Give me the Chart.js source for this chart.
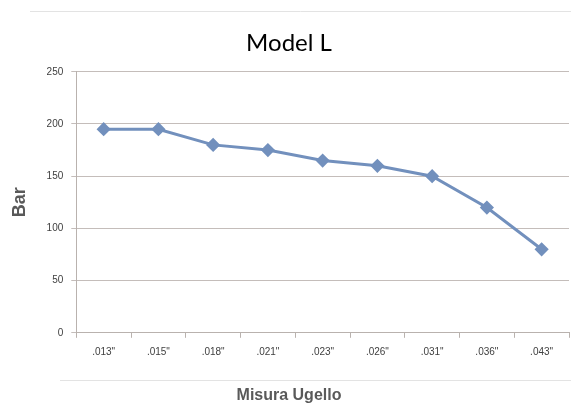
<!DOCTYPE html>
<html>
<head>
<meta charset="utf-8">
<script src="https://cdn.jsdelivr.net/npm/chart.js@4/dist/chart.umd.min.js"></script>
<style>
html,body{margin:0;padding:0;background:#fff;}
#wrap{width:571px;height:405px;position:relative;}
</style>
</head>
<body>
<div id="wrap"><canvas id="c" width="571" height="405"></canvas></div>
<script>
const categories = ['.013"', '.015"', '.018"', '.021"', '.023"', '.026"', '.031"', '.036"', '.043"'];
const barValues = [195, 195, 180, 175, 165, 160, 150, 120, 80];
const yTicks = [0, 50, 100, 150, 200, 250];

const separators = {
  id: 'separators',
  beforeDraw(chart) {
    const ctx = chart.ctx;
    const a = chart.chartArea;
    ctx.save();
    ctx.strokeStyle = '#e3e3e3';
    ctx.lineWidth = 1;
    ctx.beginPath();
    ctx.moveTo(30, Math.round(a.top) - 60.5);
    ctx.lineTo(571, Math.round(a.top) - 60.5);
    ctx.moveTo(60, Math.round(a.bottom) + 47.5);
    ctx.lineTo(571, Math.round(a.bottom) + 47.5);
    ctx.stroke();
    ctx.restore();
  }
};

new Chart(document.getElementById('c'), {
  type: 'line',
  data: {
    labels: categories,
    datasets: [{
      label: 'Bar',
      data: barValues,
      borderColor: '#7290bd',
      backgroundColor: '#7290bd',
      borderWidth: 3,
      pointStyle: 'rectRot',
      pointRadius: 5,
      pointHoverRadius: 5,
      tension: 0
    }]
  },
  options: {
    responsive: false,
    animation: false,
    layout: { autoPadding: false, padding: { left: 9, right: 2, top: 0, bottom: 0 } },
    plugins: {
      legend: { display: false },
      tooltip: { enabled: false },
      title: {
        display: true,
        text: 'Model L',
        color: '#000',
        font: { family: 'Lato', size: 24, weight: 'normal' },
        padding: { top: 29, bottom: 14 }
      },
      subtitle: {
        display: true,
        position: 'bottom',
        text: 'Misura Ugello',
        color: '#595959',
        font: { family: 'Liberation Sans', size: 16, weight: 'bold' },
        padding: { top: 20, bottom: 0 }
      }
    },
    scales: {
      x: {
        type: 'category',
        offset: true,
        afterFit(scale) { scale.paddingLeft = 0; scale.paddingRight = 0; },
        grid: { offset: true, drawOnChartArea: false, drawTicks: true, tickLength: 5, color: '#b9b2ae' },
        border: { color: '#b9b2ae' },
        ticks: { color: '#404040', font: { family: 'Liberation Sans', size: 10 }, padding: 8, maxRotation: 0, autoSkip: false }
      },
      y: {
        min: 0,
        max: 250,
        afterBuildTicks(scale) { scale.ticks = yTicks.map(v => ({ value: v })); },
        grid: { color: '#c4bdba', tickLength: 5 },
        border: { color: '#b9b2ae' },
        ticks: { color: '#404040', font: { family: 'Liberation Sans', size: 10 }, padding: 8 },
        title: {
          display: true,
          text: 'Bar',
          color: '#595959',
          font: { family: 'Liberation Sans', size: 18, weight: 'bold' },
          padding: { top: 0, bottom: 8 }
        }
      }
    }
  },
  plugins: [separators]
});
</script>
</body>
</html>
